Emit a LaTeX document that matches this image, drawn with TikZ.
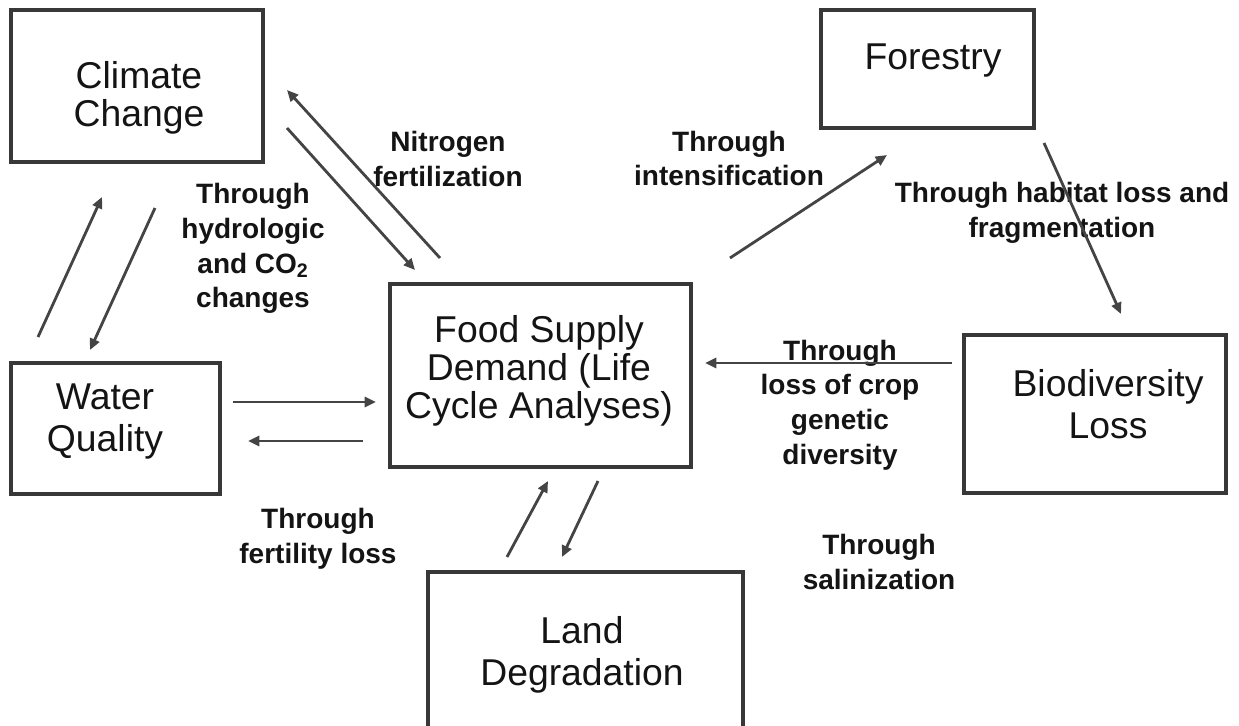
\documentclass[tikz,border=0pt]{standalone}
\usepackage{fontspec}
\setmainfont{Liberation Sans}
\usetikzlibrary{arrows.meta,fit}
\definecolor{boxc}{HTML}{383838}
\definecolor{arrc}{HTML}{444444}
\begin{document}
\begin{tikzpicture}[x=0.75pt,y=-0.75pt,
  box/.style={draw=boxc, line width=2.3pt, inner sep=0pt, rectangle},
  boxtext/.style={font=\fontsize{28}{28.5}\selectfont, align=center, inner sep=0pt, text=black!92},
  boxtextwide/.style={boxtext, font=\fontsize{28}{31.5}\selectfont},
  lbl/.style={font=\fontsize{21}{26}\selectfont\bfseries, align=center, inner sep=0pt, text=black!92},
  arr/.style={draw=arrc, line width=2.1pt, -{Triangle[length=8.5pt,width=7.5pt]}}]
\path[use as bounding box, fill=white] (0,0) rectangle (1239,725);
\clip (0,0) rectangle (1239,725);

% boxes
\node[box, fit={(11,10) (263,162)}] (cc) {};
\node[box, fit={(821,10) (1034,128)}] (fo) {};
\node[box, fit={(390,284) (691,467)}] (fs) {};
\node[box, fit={(11,363) (220,494)}] (wq) {};
\node[box, fit={(964,335) (1226,493)}] (bl) {};
\node[box, fit={(428,572) (743,745)}] (ld) {};

% box texts
\node[boxtext] (cct) at (139,97.5) {Climate\\Change};
\node[boxtext] (fot) at (933,61) {Forestry};
\node[boxtext] (fst) at (539,371) {Food Supply\\Demand (Life\\Cycle Analyses)};
\node[boxtextwide] (wqt) at (105,421.5) {Water\\Quality};
\node[boxtextwide] (blt) at (1108,404) {Biodiversity\\Loss};
\node[boxtextwide] (ldt) at (582,655) {Land\\Degradation};

% labels
\node[lbl] (l1) at (448,159) {Nitrogen\\fertilization};
\node[lbl] (l2) at (253,248.5) {Through\\hydrologic\\and CO\textsubscript{2}\\changes};
\node[lbl] (l3) at (729,158.5) {Through\\intensification};
\node[lbl] (l4) at (1062,213) {Through habitat loss and\\fragmentation};
\node[lbl] (l5) at (840,405) {Through\\loss of crop\\genetic\\diversity};
\node[lbl] (l6) at (318,539) {Through\\fertility loss};
\node[lbl] (l7) at (879,562) {Through\\salinization};

% arrow end points
\coordinate (a1s) at (440,258); \coordinate (a1e) at (287,90);
\coordinate (a2s) at (287,128); \coordinate (a2e) at (415,270);
\coordinate (a3s) at (38,337);  \coordinate (a3e) at (102,197);
\coordinate (a4s) at (155,208); \coordinate (a4e) at (90,350);
\coordinate (a5s) at (233,402); \coordinate (a5e) at (376,402);
\coordinate (a6s) at (363,441); \coordinate (a6e) at (248,441);
\coordinate (a7s) at (507,557); \coordinate (a7e) at (548,481);
\coordinate (a8s) at (598,481); \coordinate (a8e) at (562,557);
\coordinate (a9s) at (730,258); \coordinate (a9e) at (887,155);
\coordinate (a10s) at (1044,143); \coordinate (a10e) at (1121,314);
\coordinate (a11s) at (952,363); \coordinate (a11e) at (705,363);

\foreach \i in {1,...,11} {\draw[arr] (a\i s) -- (a\i e);}
\end{tikzpicture}
\end{document}
